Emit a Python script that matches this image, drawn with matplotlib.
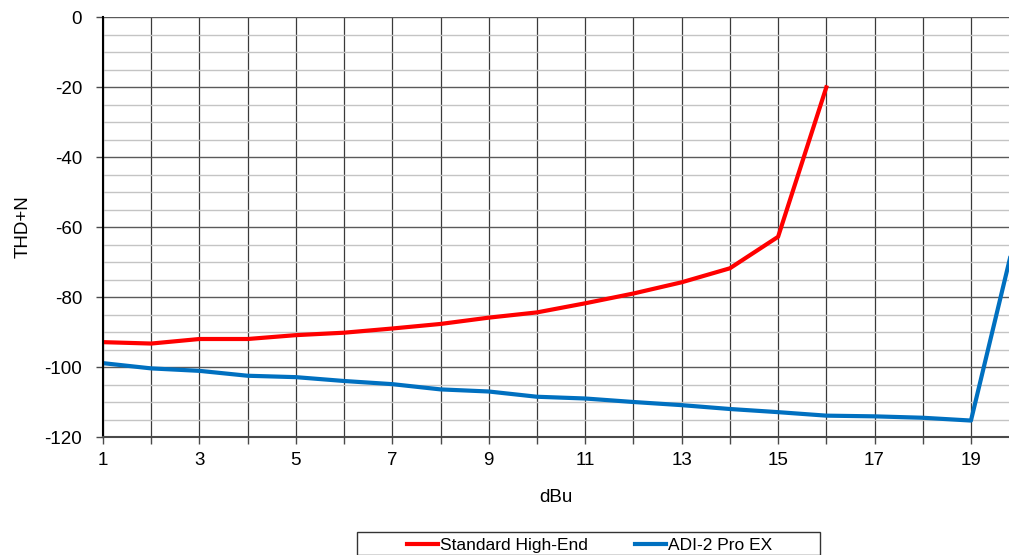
import matplotlib
matplotlib.use("Agg")
import matplotlib.pyplot as plt
from matplotlib.ticker import MultipleLocator
from matplotlib.patches import Rectangle

plt.rcParams['font.family'] = ['Liberation Sans', 'DejaVu Sans']
plt.rcParams['axes.unicode_minus'] = False

x_std = [1, 2, 3, 4, 5, 6, 7, 8, 9, 10, 11, 12, 13, 14, 15, 16]
y_std = [-92.9, -93.3, -92.0, -92.0, -90.9, -90.2, -89.0, -87.7, -85.9, -84.4,
         -81.8, -79.0, -75.8, -71.8, -62.8, -20.1]
x_adi = [1, 2, 3, 4, 5, 6, 7, 8, 9, 10, 11, 12, 13, 14, 15, 16, 17, 18, 19, 20]
y_adi = [-98.9, -100.4, -101.1, -102.5, -102.9, -104.0, -104.9, -106.4, -107.0,
         -108.5, -109.0, -110.0, -110.9, -112.0, -112.9, -113.9, -114.1, -114.5,
         -115.3, -58.0]
xtick_labels = [1, 3, 5, 7, 9, 11, 13, 15, 17, 19]
ytick_labels = [0, -20, -40, -60, -80, -100, -120]

W, H = 1009, 555
fig = plt.figure(figsize=(W / 100, H / 100), dpi=100)
ax = fig.add_axes([103 / W, 1 - 437 / H, (W - 103) / W, 420 / H])

ax.set_xlim(1, 1 + 906 / 48.22)
ax.set_ylim(-120, 0)

ax.yaxis.set_minor_locator(MultipleLocator(5))
ax.set_yticks(ytick_labels)
ax.set_xticks(range(1, 20))
ax.set_xticklabels([str(v) if v in xtick_labels else '' for v in range(1, 20)])

ax.grid(True, which='minor', axis='y', color='#c4c4c4', linewidth=1.0)
ax.grid(True, which='major', axis='y', color='#5a5a5a', linewidth=1.0)
ax.grid(True, which='major', axis='x', color='#3a3a3a', linewidth=0.9)
ax.set_axisbelow(True)

ax.plot(x_std, y_std, color='#ff0000', linewidth=3, label='Standard High-End')
ax.plot(x_adi, y_adi, color='#0070c0', linewidth=3, label='ADI-2 Pro EX')

for s in ['top', 'right']:
    ax.spines[s].set_visible(False)
ax.spines['left'].set_color('#000000')
ax.spines['left'].set_linewidth(1.5)
ax.spines['bottom'].set_color('#4a4a4a')
ax.spines['bottom'].set_linewidth(1.5)

ax.tick_params(axis='x', which='major', direction='out', length=5, width=1.0,
               colors='#4a4a4a', labelcolor='black', labelsize=13.5, pad=6)
ax.tick_params(axis='y', which='major', direction='out', length=5, width=1.0,
               colors='#4a4a4a', labelcolor='black', labelsize=13.5, pad=10)
ax.tick_params(axis='y', which='minor', length=0)

ax.set_ylabel('THD+N', fontsize=13.5, labelpad=9)
ax.set_xlabel('dBu', fontsize=13.5, labelpad=14)

# legend frame (Excel-style, wider than its content)
fig.patches.append(Rectangle((357 / W, 0), (820 - 357) / W, 1 - 532 / H,
                             transform=fig.transFigure, facecolor='white',
                             edgecolor='#333333', linewidth=1.0, zorder=5))
leg = fig.legend(loc='center', bbox_to_anchor=(589.5 / W, 1 - 545 / H),
                 ncol=2, frameon=False, fontsize=12.5, handlelength=1.8,
                 handletextpad=0.1, columnspacing=2.7, borderpad=0.0,
                 borderaxespad=0.0)
leg.set_zorder(6)

fig.savefig('out.png', dpi=100)
